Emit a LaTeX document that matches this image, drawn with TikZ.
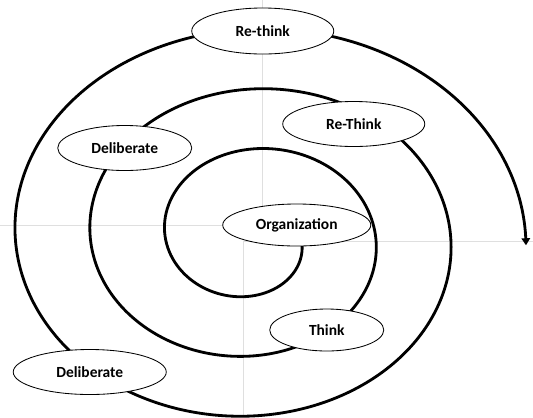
\documentclass[tikz,border=0pt]{standalone}
\usepackage{fontspec}
\setmainfont{Carlito}
\usetikzlibrary{calc,shapes.geometric,arrows.meta}

\begin{document}
\begin{tikzpicture}[x=0.025cm,y=-0.025cm,
    stage/.style={ellipse,draw,line width=0.6pt,fill=white,inner sep=0pt,
      font=\bfseries\fontsize{11}{13}\selectfont},
    axis/.style={gray!25,line width=0.7pt},
    spiral/.style={line width=2pt,-{Triangle[length=5pt,width=6pt]}}]
  \useasboundingbox (0,0) rectangle (533,417);
  \coordinate (o) at (251.75,237.5);
  \draw[axis] (262,0) -- (262,225) -- (0,225);
  \draw[axis] (533,241) -- (243,241) -- (243,417);
  \draw[spiral] plot[domain=0:1082,samples=360,smooth]
    ({251.75+(49+\x/360*75)*cos(\x)},{237.5+(43.5+\x/360*60)*sin(\x)});
  \node[stage,minimum width=3.55cm,minimum height=1.15cm] at ($(o) + (11,-206.5)$) (rethinkA) {Re-think};
  \node[stage,minimum width=3.55cm,minimum height=1.125cm] at ($(o) + (102,-113.5)$) (rethinkB) {Re-Think};
  \node[stage,minimum width=3.35cm,minimum height=1.125cm] at ($(o) + (-127,-89.5)$) (delibA) {Deliberate};
  \node[stage,minimum width=3.7cm,minimum height=1.05cm] at ($(o) + (45,-12.5)$) (org) {Organization};
  \node[stage,minimum width=2.85cm,minimum height=1.05cm] at ($(o) + (75,92.5)$) (think) {Think};
  \node[stage,minimum width=3.825cm,minimum height=1.125cm] at ($(o) + (-162,134.5)$) (delibB) {Deliberate};
\end{tikzpicture}
\end{document}
